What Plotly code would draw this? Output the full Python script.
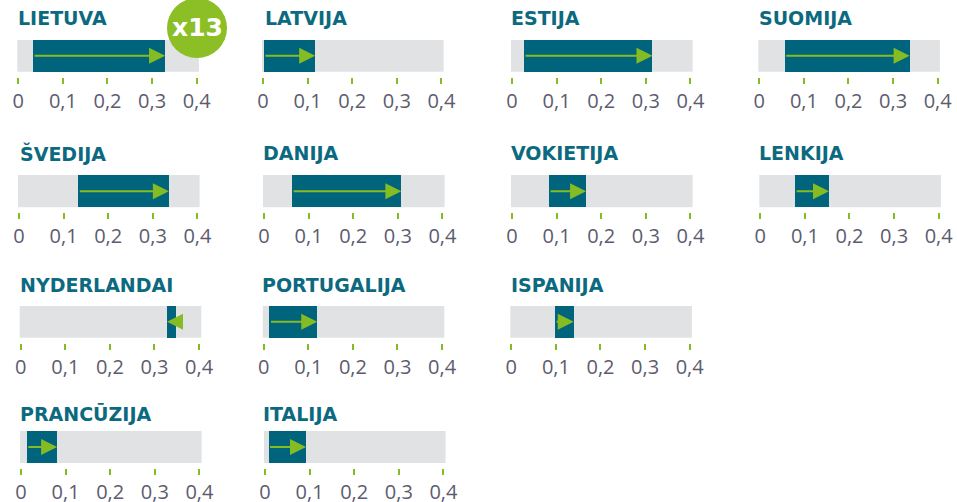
import plotly.graph_objects as go

# ---- data ----
countries = ["LIETUVA", "LATVIJA", "ESTIJA", "SUOMIJA",
             "ŠVEDIJA", "DANIJA", "VOKIETIJA", "LENKIJA",
             "NYDERLANDAI", "PORTUGALIJA", "ISPANIJA",
             "PRANCŪZIJA", "ITALIJA"]
start_vals = [0.033, 0.002, 0.027, 0.057,
              0.133, 0.063, 0.083, 0.078,
              0.349, 0.013, 0.098,
              0.013, 0.008]
end_vals = [0.329, 0.117, 0.315, 0.337,
            0.336, 0.308, 0.166, 0.154,
            0.328, 0.120, 0.140,
            0.081, 0.092]
tick_vals = [0, 0.1, 0.2, 0.3, 0.4]
tick_text = ["0", "0,1", "0,2", "0,3", "0,4"]
badge_text = "x13"

# ---- layout (pixels) ----
W, H = 957, 502
zero_px = [18.3, 263, 512, 759.3,
           19, 264, 512, 760.3,
           20.7, 263.7, 511.3,
           21, 265]
title_px = [16, 263, 508.7, 757,
            18, 260.7, 508.7, 757,
            18, 260.3, 509.3,
            18, 260.7]
row_of = [0, 0, 0, 0, 1, 1, 1, 1, 2, 2, 2, 3, 3]
grey_top = [40, 175, 306, 431]
grey_bot = [71.7, 207.3, 337.7, 463]
title_mid = [18, 153.3, 285, 413.7]
PX_PER_UNIT = 446
XMIN, XMAX = -0.0022, 0.405
GAP = 5

TEAL = "#00657c"
GREEN = "#85bc24"
GREY = "#e1e2e4"
TITLE_C = "#0b6a80"
LABEL_C = "#5c5c6e"


def px_x(p):
    return p / W


def px_y(p):
    return 1 - p / H


fig = go.Figure()
layout = dict(
    template="none",
    width=W, height=H, autosize=False,
    margin=dict(l=0, r=0, t=0, b=0, pad=0, autoexpand=False),
    paper_bgcolor="white", plot_bgcolor="white",
    showlegend=False, bargap=0,
)
annotations = []
shapes = []

for i, name in enumerate(countries):
    n = "" if i == 0 else str(i + 1)
    r = row_of[i]
    x0 = zero_px[i]
    left = x0 + XMIN * PX_PER_UNIT
    right = x0 + XMAX * PX_PER_UNIT
    top = grey_top[r]
    bot = grey_bot[r] + GAP
    bar_h = grey_bot[r] - grey_top[r]
    ymin = -0.5 - GAP / bar_h

    layout["xaxis" + n] = dict(
        domain=[px_x(left), px_x(right)], range=[XMIN, XMAX],
        anchor="y" + n, showgrid=False, zeroline=False, showline=False,
        automargin=False,
        ticks="outside", ticklen=6, tickwidth=2, tickcolor=GREEN,
        tickvals=tick_vals, ticktext=tick_text,
        tickfont=dict(family="Open Sans", size=20, color=LABEL_C),
        fixedrange=True,
    )
    layout["yaxis" + n] = dict(
        domain=[px_y(bot), px_y(top)], range=[ymin, 0.5],
        anchor="x" + n, visible=False, fixedrange=True, automargin=False,
    )

    shapes.append(dict(type="rect", xref="x" + n + " domain", yref="y" + n,
                       x0=0, x1=1, y0=-0.5, y1=0.5, fillcolor=GREY,
                       line=dict(width=0), layer="below"))

    fig.add_trace(go.Bar(
        x=[end_vals[i] - start_vals[i]], y=[0], base=[start_vals[i]],
        orientation="h", width=1, marker=dict(color=TEAL, line=dict(width=0)),
        xaxis="x" + n, yaxis="y" + n, hoverinfo="skip",
    ))

    annotations.append(dict(
        x=end_vals[i], y=0, ax=start_vals[i], ay=0,
        xref="x" + n, yref="y" + n, axref="x" + n, ayref="y" + n,
        showarrow=True, arrowhead=2, arrowsize=1.6, arrowwidth=2,
        arrowcolor=GREEN, text="", standoff=0,
    ))

    annotations.append(dict(
        x=px_x(title_px[i]), y=px_y(title_mid[r]), xref="paper", yref="paper",
        xanchor="left", yanchor="middle", showarrow=False, text=name,
        font=dict(family="DejaVu Sans", size=19, color=TITLE_C, weight="bold"),
    ))

# badge
cx, cy, rad = 197, 28, 30
shapes.append(dict(type="circle", xref="paper", yref="paper",
                   x0=px_x(cx - rad), x1=px_x(cx + rad),
                   y0=px_y(cy + rad), y1=px_y(cy - rad),
                   fillcolor="#8cbf26", line=dict(width=0), layer="above"))
annotations.append(dict(
    x=px_x(cx), y=px_y(cy), xref="paper", yref="paper",
    xanchor="center", yanchor="middle", showarrow=False, text=badge_text,
    font=dict(family="DejaVu Sans", size=25, color="white", weight="bold"),
))

layout["annotations"] = annotations
layout["shapes"] = shapes
fig.update_layout(**layout)
fig.write_html("out.html",
               config={"displayModeBar": False, "staticPlot": True},
               post_script="document.body.style.margin='0';")
